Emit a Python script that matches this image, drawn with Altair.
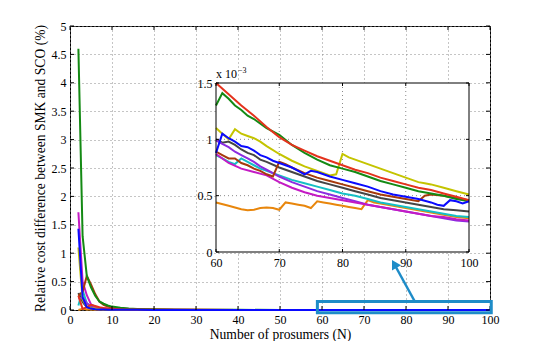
import altair as alt
import pandas as pd

FONT = "Liberation Serif"
W, H = 420, 284
IN_L, IN_R, IN_T, IN_B = 146, 399, 57, 226   # inset placement inside the plot area (px)
TICK, ITICK = 4, 3
ANN = "#1e8cc8"
GRID = "#8a8a8a"

SERIES = ["orange", "cyan", "gray", "purple", "magenta", "brown", "olive", "green", "red", "blue"]
COLORS = ["#e8860c", "#14bfc6", "#454545", "#8c2ce0", "#c41ac4", "#a63a0c", "#c4c400", "#148a14", "#e4321c", "#0a0aff"]

# ---- main plot values (percent), N = 2 .. 50
MAIN_N = [2, 3, 4, 5, 6, 7, 8, 9, 10, 12, 14, 16, 20, 25, 30, 40, 50]
GREEN_MAIN = [4.60, 1.30, 0.60, 0.40, 0.25, 0.15, 0.11, 0.08, 0.06, 0.04, 0.025, 0.018, 0.010, 0.006, 0.004, 0.0025, 0.0018]
BROWN_MAIN = [0.25, 0.32, 0.60, 0.45, 0.28, 0.15, 0.09, 0.06, 0.04, 0.025, 0.016, 0.011, 0.007, 0.004, 0.003, 0.0018, 0.0012]
MAGENTA_MAIN = [1.72, 0.50, 0.26, 0.10, 0.06, 0.04, 0.03, 0.02, 0.015, 0.01, 0.007, 0.005, 0.003, 0.002, 0.0016, 0.0011, 0.0009]
BLUE_MAIN = [1.43, 0.22, 0.05, 0.025, 0.015, 0.01, 0.008, 0.006, 0.005, 0.004, 0.003, 0.0025, 0.002, 0.0016, 0.0013, 0.0011, 0.0009]
OLIVE_MAIN = [1.10, 0.18, 0.06, 0.035, 0.025, 0.018, 0.013, 0.01, 0.008, 0.006, 0.005, 0.004, 0.003, 0.0022, 0.0018, 0.0013, 0.0011]
PURPLE_MAIN = [0.20, 0.22, 0.12, 0.06, 0.04, 0.03, 0.02, 0.015, 0.012, 0.008, 0.006, 0.005, 0.0035, 0.0025, 0.002, 0.0014, 0.0011]
CYAN_MAIN = [0.08, 0.35, 0.12, 0.06, 0.04, 0.03, 0.02, 0.015, 0.012, 0.008, 0.006, 0.005, 0.0035, 0.0025, 0.002, 0.0013, 0.001]
RED_MAIN = [0.25, 0.02, 0.05, 0.09, 0.07, 0.05, 0.035, 0.025, 0.02, 0.012, 0.009, 0.007, 0.005, 0.0035, 0.0028, 0.0019, 0.0016]
GRAY_MAIN = [0.30, 0.14, 0.05, 0.03, 0.02, 0.015, 0.012, 0.01, 0.008, 0.006, 0.005, 0.004, 0.003, 0.0022, 0.0018, 0.0013, 0.0011]
ORANGE_MAIN = [0.00, 0.02, 0.01, 0.008, 0.006, 0.005, 0.004, 0.003, 0.003, 0.002, 0.0015, 0.0012, 0.001, 0.0008, 0.0007, 0.0005, 0.0005]

# ---- inset values (x 10^-3 percent), N = 60 .. 100
RED_IN = [(60, 1.50), (62, 1.40), (64, 1.30), (66, 1.21), (68, 1.11), (70, 1.02), (72, 0.95), (74, 0.90), (76, 0.85),
          (78, 0.81), (80, 0.77), (82, 0.73), (84, 0.70), (86, 0.66), (88, 0.63), (90, 0.60), (92, 0.57), (94, 0.55),
          (96, 0.52), (98, 0.49), (100, 0.46)]
GREEN_IN = [(60, 1.30), (61, 1.41), (62, 1.36), (63, 1.30), (64, 1.26), (65, 1.21), (66, 1.18), (68, 1.10), (70, 1.04),
            (72, 0.95), (74, 0.88), (76, 0.82), (78, 0.77), (80, 0.74), (82, 0.71), (84, 0.67), (86, 0.63), (88, 0.60),
            (90, 0.57), (92, 0.54), (94, 0.52), (96, 0.50), (98, 0.47), (100, 0.45)]
OLIVE_IN = [(60, 1.10), (61, 1.05), (62, 1.00), (63, 1.09), (64, 1.05), (65, 1.03), (66, 1.01), (67, 0.98), (68, 0.94),
            (70, 0.87), (72, 0.81), (74, 0.76), (76, 0.72), (77, 0.70), (78, 0.68), (79, 0.69), (80, 0.87), (81, 0.84),
            (82, 0.82), (84, 0.78), (86, 0.74), (88, 0.70), (90, 0.66), (92, 0.62), (93, 0.61), (94, 0.60), (96, 0.57),
            (98, 0.54), (100, 0.51)]
BLUE_IN = [(60, 0.88), (61, 1.05), (62, 1.01), (63, 0.98), (64, 0.94), (65, 0.93), (66, 0.90), (67, 0.86), (68, 0.84),
           (69, 0.81), (70, 0.79), (72, 0.75), (73, 0.72), (74, 0.69), (75, 0.72), (76, 0.71), (78, 0.67), (80, 0.64),
           (82, 0.61), (84, 0.58), (86, 0.54), (88, 0.51), (90, 0.49), (92, 0.47), (94, 0.44), (95, 0.42), (96, 0.41),
           (97, 0.46), (98, 0.45), (99, 0.43), (100, 0.45)]
GRAY_IN = [(60, 1.00), (61, 0.97), (62, 0.98), (63, 0.95), (64, 0.91), (65, 0.88), (66, 0.86), (67, 0.82), (68, 0.80),
           (70, 0.75), (72, 0.71), (74, 0.67), (76, 0.63), (78, 0.60), (80, 0.57), (82, 0.54), (84, 0.51), (86, 0.48),
           (88, 0.46), (90, 0.44), (92, 0.42), (94, 0.40), (96, 0.38), (98, 0.37), (100, 0.36)]
BROWN_IN = [(60, 0.89), (61, 0.86), (62, 0.83), (63, 0.83), (64, 0.79), (65, 0.77), (66, 0.74), (67, 0.72), (68, 0.69),
            (69, 0.67), (70, 0.80), (71, 0.78), (72, 0.75), (74, 0.70), (76, 0.66), (78, 0.63), (80, 0.60), (82, 0.57),
            (84, 0.54), (86, 0.51), (88, 0.49), (90, 0.47), (92, 0.45), (93, 0.50), (94, 0.51), (96, 0.50), (98, 0.48),
            (100, 0.46)]
CYAN_IN = [(60, 0.86), (61, 0.83), (62, 0.80), (63, 0.78), (64, 0.83), (65, 0.80), (66, 0.77), (67, 0.74), (68, 0.72),
           (69, 0.70), (70, 0.68), (72, 0.64), (74, 0.61), (76, 0.58), (78, 0.55), (80, 0.52), (82, 0.50), (84, 0.47),
           (86, 0.44), (88, 0.42), (90, 0.40), (92, 0.38), (94, 0.36), (96, 0.34), (98, 0.32), (100, 0.31)]
MAGENTA_IN = [(60, 0.87), (62, 0.79), (64, 0.74), (66, 0.71), (68, 0.68), (70, 0.62), (72, 0.57), (74, 0.53), (76, 0.50),
              (78, 0.48), (80, 0.46), (82, 0.44), (84, 0.42), (86, 0.40), (88, 0.38), (90, 0.36), (92, 0.34), (94, 0.32),
              (96, 0.31), (98, 0.29), (100, 0.28)]
PURPLE_IN = [(60, 0.99), (61, 0.96), (62, 0.93), (63, 0.89), (64, 0.86), (65, 0.83), (66, 0.80), (67, 0.76), (68, 0.73),
             (70, 0.67), (72, 0.62), (74, 0.58), (76, 0.54), (78, 0.51), (80, 0.48), (82, 0.45), (84, 0.42), (86, 0.40),
             (88, 0.38), (90, 0.36), (92, 0.34), (94, 0.32), (96, 0.30), (98, 0.28), (100, 0.27)]
ORANGE_IN = [(60, 0.44), (62, 0.41), (64, 0.38), (65, 0.37), (66, 0.375), (67, 0.39), (68, 0.395), (69, 0.39), (70, 0.375),
             (71, 0.44), (72, 0.43), (73, 0.42), (74, 0.41), (75, 0.39), (76, 0.45), (77, 0.44), (78, 0.43), (79, 0.42),
             (80, 0.41), (81, 0.40), (82, 0.39), (83, 0.38), (84, 0.46), (85, 0.44), (86, 0.43), (88, 0.41), (90, 0.39),
             (92, 0.37), (94, 0.35), (96, 0.33), (98, 0.31), (100, 0.30)]

MAIN_X_TICKS = [0, 10, 20, 30, 40, 50, 60, 70, 80, 90, 100]
MAIN_Y_TICKS = [0, 0.5, 1, 1.5, 2, 2.5, 3, 3.5, 4, 4.5, 5]
INSET_X_TICKS = [60, 70, 80, 90, 100]
INSET_Y_TICKS = [0, 0.5, 1, 1.5]
INSET_X_GRID = [70, 80, 90]
INSET_Y_GRID = [0.5, 1.0]

# annotation (main-plot data coordinates)
BOX_X0, BOX_X1, BOX_Y0, BOX_Y1 = 58.9, 100.3, -0.05, 0.15
ARROW_X0, ARROW_Y0, ARROW_X1, ARROW_Y1 = 82.1, 0.15, 77.2, 0.81

main_vals = {"orange": ORANGE_MAIN, "cyan": CYAN_MAIN, "gray": GRAY_MAIN, "purple": PURPLE_MAIN,
             "magenta": MAGENTA_MAIN, "brown": BROWN_MAIN, "olive": OLIVE_MAIN, "green": GREEN_MAIN,
             "red": RED_MAIN, "blue": BLUE_MAIN}
inset_vals = {"orange": ORANGE_IN, "cyan": CYAN_IN, "gray": GRAY_IN, "purple": PURPLE_IN,
              "magenta": MAGENTA_IN, "brown": BROWN_IN, "olive": OLIVE_IN, "green": GREEN_IN,
              "red": RED_IN, "blue": BLUE_IN}

rows_main, rows_inset = [], []
for s in SERIES:
    for n, v in zip(MAIN_N, main_vals[s]):
        rows_main.append({"series": s, "N": n, "v": v})
    for n, v in inset_vals[s]:
        rows_main.append({"series": s, "N": n, "v": v * 1e-3})
        rows_inset.append({"series": s, "N": n, "v": v})
df_main = pd.DataFrame(rows_main)
df_inset = pd.DataFrame(rows_inset)
one = pd.DataFrame({"a": [0]})

XM = alt.Scale(domain=[0, 100], nice=False, zero=False)
YM = alt.Scale(domain=[0, 5], nice=False)
XI = alt.Scale(domain=[60, 100], range=[IN_L, IN_R], nice=False, zero=False)
YI = alt.Scale(domain=[0, 1.5], range=[IN_B, IN_T], nice=False)

lab = dict(labelFont=FONT, labelFontSize=12, labelColor="black", titleFont=FONT, titleFontSize=13.6,
           titleColor="black", titleFontWeight="normal", labelFlush=False, labelOverlap=False,
           ticks=False, domain=False)
AXM_X = alt.Axis(orient="bottom", values=MAIN_X_TICKS, format="d", grid=True, gridDash=[1, 3], gridColor=GRID,
                 labelPadding=4, title="Number of prosumers (N)", titlePadding=2, **lab)
AXM_Y = alt.Axis(orient="left", values=MAIN_Y_TICKS, format="~g", grid=True, gridDash=[1, 3], gridColor=GRID,
                 labelPadding=4, title="Relative cost difference between SMK and SCO (%)", titlePadding=4, **lab)
AXI_X = alt.Axis(orient="bottom", values=INSET_X_TICKS, format="d", grid=False, offset=IN_B - H,
                 labelPadding=5, title=None, **lab)
AXI_Y = alt.Axis(orient="left", values=INSET_Y_TICKS, format="~g", grid=False, offset=-IN_L,
                 labelPadding=4, title=None, **lab)
color = alt.Color("series:N", scale=alt.Scale(domain=SERIES, range=COLORS), legend=None)

# ---------------- main plot
main_lines = alt.Chart(df_main).mark_line(strokeWidth=2).encode(
    x=alt.X("N:Q", scale=XM, axis=AXM_X), y=alt.Y("v:Q", scale=YM, axis=AXM_Y), color=color)
xt = pd.DataFrame({"t": MAIN_X_TICKS})
yt = pd.DataFrame({"t": MAIN_Y_TICKS})
mt1 = alt.Chart(xt).mark_rule(color="black").encode(x=alt.X("t:Q", scale=XM, axis=AXM_X),
                                                    y=alt.value(H), y2=alt.value(H - TICK))
mt2 = alt.Chart(xt).mark_rule(color="black").encode(x=alt.X("t:Q", scale=XM, axis=AXM_X),
                                                    y=alt.value(0), y2=alt.value(TICK))
mt3 = alt.Chart(yt).mark_rule(color="black").encode(y=alt.Y("t:Q", scale=YM, axis=AXM_Y),
                                                    x=alt.value(0), x2=alt.value(TICK))
mt4 = alt.Chart(yt).mark_rule(color="black").encode(y=alt.Y("t:Q", scale=YM, axis=AXM_Y),
                                                    x=alt.value(W - TICK), x2=alt.value(W))
box = alt.Chart(one).mark_rect(fillOpacity=0, stroke=ANN, strokeWidth=3).encode(
    x=alt.XDatum(BOX_X0, scale=XM, axis=AXM_X), x2=alt.X2Datum(BOX_X1),
    y=alt.YDatum(BOX_Y0, scale=YM, axis=AXM_Y), y2=alt.Y2Datum(BOX_Y1))
shaft = alt.Chart(one).mark_rule(color=ANN, strokeWidth=2.5).encode(
    x=alt.XDatum(ARROW_X0, scale=XM, axis=AXM_X), x2=alt.X2Datum(ARROW_X1),
    y=alt.YDatum(ARROW_Y0, scale=YM, axis=AXM_Y), y2=alt.Y2Datum(ARROW_Y1))
head = alt.Chart(one).mark_point(shape="triangle-up", filled=True, size=110, angle=330, color=ANN, opacity=1).encode(
    x=alt.XDatum(ARROW_X1, scale=XM, axis=AXM_X), y=alt.YDatum(ARROW_Y1, scale=YM, axis=AXM_Y))
main = alt.layer(main_lines, mt1, mt2, mt3, mt4, box, shaft, head)

# ---------------- inset
bg = alt.Chart(one).mark_rect(color="white").encode(
    x=alt.XDatum(60, scale=XI, axis=AXI_X), x2=alt.X2Datum(100),
    y=alt.YDatum(0, scale=YI, axis=AXI_Y), y2=alt.Y2Datum(1.5))
gx = alt.Chart(pd.DataFrame({"g": INSET_X_GRID})).mark_rule(color=GRID, strokeDash=[1, 3]).encode(
    x=alt.X("g:Q", scale=XI, axis=AXI_X), y=alt.value(IN_B), y2=alt.value(IN_T))
gy = alt.Chart(pd.DataFrame({"g": INSET_Y_GRID})).mark_rule(color=GRID, strokeDash=[1, 3]).encode(
    y=alt.Y("g:Q", scale=YI, axis=AXI_Y), x=alt.value(IN_L), x2=alt.value(IN_R))
in_lines = alt.Chart(df_inset).mark_line(strokeWidth=2).encode(
    x=alt.X("N:Q", scale=XI, axis=AXI_X), y=alt.Y("v:Q", scale=YI, axis=AXI_Y), color=color)
frame = alt.Chart(one).mark_rect(fillOpacity=0, stroke="black", strokeWidth=1).encode(
    x=alt.XDatum(60, scale=XI, axis=AXI_X), x2=alt.X2Datum(100),
    y=alt.YDatum(0, scale=YI, axis=AXI_Y), y2=alt.Y2Datum(1.5))
ixt = pd.DataFrame({"t": INSET_X_TICKS})
iyt = pd.DataFrame({"t": INSET_Y_TICKS})
it1 = alt.Chart(ixt).mark_rule(color="black").encode(x=alt.X("t:Q", scale=XI, axis=AXI_X),
                                                     y=alt.value(IN_B), y2=alt.value(IN_B - ITICK))
it2 = alt.Chart(ixt).mark_rule(color="black").encode(x=alt.X("t:Q", scale=XI, axis=AXI_X),
                                                     y=alt.value(IN_T), y2=alt.value(IN_T + ITICK))
it3 = alt.Chart(iyt).mark_rule(color="black").encode(y=alt.Y("t:Q", scale=YI, axis=AXI_Y),
                                                     x=alt.value(IN_L), x2=alt.value(IN_L + ITICK))
it4 = alt.Chart(iyt).mark_rule(color="black").encode(y=alt.Y("t:Q", scale=YI, axis=AXI_Y),
                                                     x=alt.value(IN_R - ITICK), x2=alt.value(IN_R))
mult = alt.Chart(one).mark_text(text="x 10", font=FONT, fontSize=12, align="left", baseline="alphabetic",
                                dy=-5, color="black").encode(
    x=alt.XDatum(60, scale=XI, axis=AXI_X), y=alt.YDatum(1.5, scale=YI, axis=AXI_Y))
expo = alt.Chart(one).mark_text(text="\u22123", font=FONT, fontSize=8, align="left", baseline="alphabetic",
                                dx=22, dy=-10, color="black").encode(
    x=alt.XDatum(60, scale=XI, axis=AXI_X), y=alt.YDatum(1.5, scale=YI, axis=AXI_Y))
inset = alt.layer(bg, gx, gy, in_lines, frame, it1, it2, it3, it4, mult, expo)

chart = alt.layer(main, inset).resolve_scale(x="independent", y="independent").properties(
    width=W, height=H,
    autosize=alt.AutoSizeParams(type="none"),
    padding={"left": 62, "top": 18, "right": 40, "bottom": 31},
    background="white",
).configure_view(stroke="black", strokeWidth=1)

chart.save("out.html", embed_options={"renderer": "svg", "actions": False})
